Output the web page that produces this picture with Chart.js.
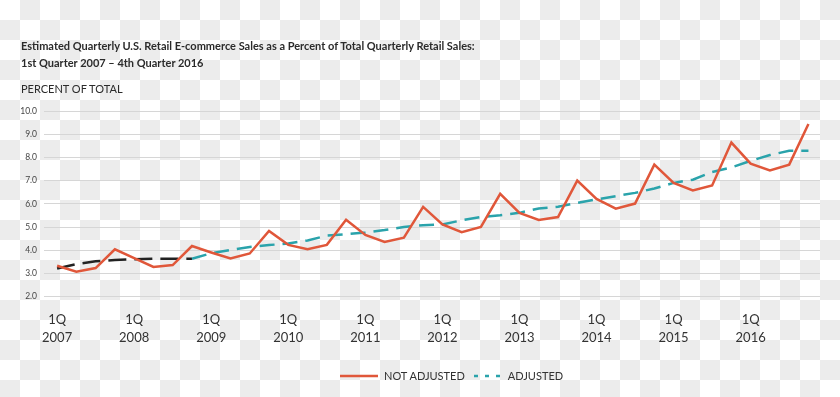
<!DOCTYPE html>
<html>
<head>
<meta charset="utf-8">
<script src="https://cdn.jsdelivr.net/npm/chart.js@4"></script>
<style>
  html, body {
    margin: 0;
    padding: 0;
    width: 840px;
    height: 397px;
    overflow: hidden;
    font-family: Lato, "Open Sans", sans-serif;
    color: #333;
    background: #fff;
  }
  .txt { position: absolute; white-space: nowrap; }
  #title { left: 21px; top: 37px; font-size: 11px; font-weight: bold; line-height: 17px; color: #2b2b2b; }
  #ytitle { left: 21px; top: 82px; font-size: 11px; color: #2b2b2b; }
  #chartBox { position: absolute; left: 0; top: 0; width: 840px; height: 397px; }
  #legend { left: 340px; top: 369px; font-size: 11px; color: #333; display: flex; align-items: center; }
  #legend svg { display: block; }
</style>
</head>
<body>

<div id="chartBox"><canvas id="trendChart" width="840" height="397"></canvas></div>

<div id="title" class="txt">Estimated Quarterly U.S. Retail E-commerce Sales as a Percent of Total Quarterly Retail Sales:<br>1st Quarter 2007 – 4th Quarter 2016</div>
<div id="ytitle" class="txt">PERCENT OF TOTAL</div>

<div id="legend" class="txt">
  <svg width="38" height="6"><line x1="0" y1="3" x2="38" y2="3" stroke="#e0573a" stroke-width="2.5"/></svg>
  <span style="margin-left:6px">NOT ADJUSTED</span>
  <svg width="30" height="6" style="margin-left:8px"><line x1="1" y1="3" x2="30" y2="3" stroke="#2aa3ab" stroke-width="2.5" stroke-dasharray="4 7"/></svg>
  <span style="margin-left:5px">ADJUSTED</span>
</div>

<script>
// *******************
// * Data (percent) *
// *******************

const years = ['2007', '2008', '2009', '2010', '2011', '2012', '2013', '2014', '2015', '2016'];

const notAdjusted = [
    3.33, 3.07, 3.23, 4.04,
    3.66, 3.28, 3.36, 4.18,
    3.90, 3.64, 3.86, 4.83,
    4.23, 4.04, 4.23, 5.31,
    4.66, 4.36, 4.54, 5.87,
    5.11, 4.78, 5.00, 6.43,
    5.61, 5.30, 5.43, 7.00,
    6.21, 5.79, 6.01, 7.69,
    6.90, 6.58, 6.79, 8.64,
    7.73, 7.44, 7.69, 9.44
];

const adjusted = [
    3.21, 3.40, 3.52, 3.58,
    3.61, 3.63, 3.63, 3.63,
    3.87, 4.01, 4.14, 4.22,
    4.29, 4.42, 4.63, 4.69,
    4.76, 4.87, 5.00, 5.08,
    5.11, 5.29, 5.43, 5.51,
    5.61, 5.80, 5.87, 6.04,
    6.19, 6.33, 6.47, 6.66,
    6.90, 7.04, 7.37, 7.57,
    7.85, 8.10, 8.29, 8.29
];

// first 8 quarters of the adjusted series are drawn in black
const blackUntil = 7;

const yTicks = [2, 3, 4, 5, 6, 7, 8, 9, 10];

let trendLineChart;

function toPoints(values) {
    return values.map((v, i) => ({ x: i, y: v }));
}

// light grey checkerboard behind everything (the source image is a transparent png preview)
const checkerBackground = {
    id: 'checkerBackground',
    beforeDraw(chart) {
        const ctx = chart.ctx;
        const size = 20;
        ctx.save();
        ctx.fillStyle = '#ffffff';
        ctx.fillRect(0, 0, chart.width, chart.height);
        ctx.fillStyle = '#ececec';
        for (let y = 0; y < chart.height; y += size) {
            for (let x = 0; x < chart.width; x += size) {
                if (((x / size) + (y / size)) % 2 === 1) {
                    ctx.fillRect(x, y, size, size);
                }
            }
        }
        ctx.restore();
    }
};

function createTrendChart() {
    const config = {
        type: 'line',
        data: {
            datasets: [{
                label: 'NOT ADJUSTED',
                data: toPoints(notAdjusted),
                borderColor: '#e0573a',
                borderWidth: 2.5,
                pointRadius: 0,
                tension: 0
            }, {
                label: 'ADJUSTED',
                data: toPoints(adjusted),
                borderColor: '#2aa3ab',
                borderWidth: 2.5,
                borderDash: [15, 8],
                pointRadius: 0,
                tension: 0,
                segment: {
                    borderColor: ctx => ctx.p0DataIndex < blackUntil ? '#222222' : '#2aa3ab',
                    borderDash: ctx => ctx.p0DataIndex < blackUntil ? [18, 8] : [15, 8]
                }
            }]
        },
        options: {
            responsive: false,
            animation: false,
            events: [],
            layout: {
                padding: { top: 111, right: 20, left: 0, bottom: 0 }
            },
            plugins: {
                legend: { display: false },
                tooltip: { enabled: false }
            },
            scales: {
                x: {
                    type: 'linear',
                    min: -0.68,
                    max: 39.6,
                    grid: { display: false },
                    border: { display: false },
                    afterBuildTicks: scale => {
                        scale.ticks = years.map((y, i) => ({ value: i * 4 }));
                    },
                    afterFit: scale => { scale.height = 100.4; },
                    ticks: {
                        padding: 6,
                        maxRotation: 0,
                        autoSkip: false,
                        color: '#333',
                        font: { family: 'Lato', size: 13, lineHeight: 1.4 },
                        callback: value => ['1Q', years[value / 4]]
                    }
                },
                y: {
                    min: 2,
                    max: 10,
                    grid: {
                        color: '#d6d6d6',
                        lineWidth: 1,
                        drawTicks: false
                    },
                    border: { display: false },
                    afterBuildTicks: scale => {
                        const t = [];
                        for (let v = 2; v <= 10; v += 0.5) t.push({ value: v });
                        scale.ticks = t;
                    },
                    afterFit: scale => { scale.width = 44; },
                    ticks: {
                        padding: 7,
                        color: '#444',
                        font: { family: 'Lato', size: 8.5 },
                        callback: value => yTicks.includes(value) ? value.toFixed(1) : ''
                    }
                }
            }
        },
        plugins: [checkerBackground]
    };

    if (trendLineChart) {
        trendLineChart.destroy();
    }
    trendLineChart = new Chart(document.getElementById('trendChart'), config);
}

createTrendChart();
</script>
</body>
</html>
